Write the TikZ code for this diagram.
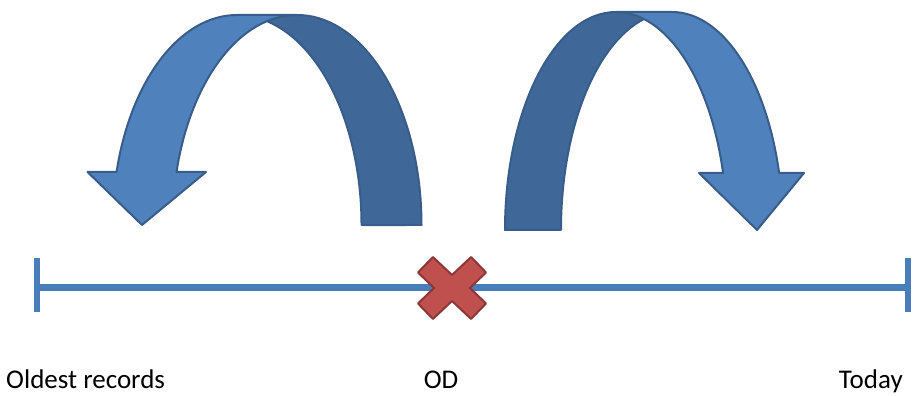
\documentclass[tikz,border=0pt]{standalone}
\usepackage{fontspec}
\setmainfont{Carlito}
\definecolor{bandlight}{HTML}{4F81BD}
\definecolor{banddark}{HTML}{3F6797}
\definecolor{bandedge}{HTML}{385D8A}
\definecolor{axisblue}{HTML}{4A7EBB}
\definecolor{crossred}{HTML}{C0504D}
\definecolor{crossedge}{HTML}{8C3836}

\begin{document}
\begin{tikzpicture}[x=1pt,y=1pt,
  lightband/.style={fill=bandlight},
  darkband/.style={fill=banddark},
  bandline/.style={draw=bandedge,line width=2pt,line join=round},
  lefthalf/.style={x radius=124.5,y radius=210},
  righthalf/.style={x radius=111,y radius=218},
  axis/.style={draw=axisblue,line width=6.5pt},
  crossmark/.style={fill=crossred,draw=crossedge,line width=2pt,line join=round},
  datelabel/.style={font=\fontsize{27}{32}\selectfont,inner sep=0pt}]

\useasboundingbox (0,0) rectangle (913,396);

\coordinate (oldend) at (37,108.5);
\coordinate (odmark) at (452,108);
\coordinate (todayend) at (908,108.5);

\begin{scope}[axis]
\draw (oldend) -- (todayend);
\draw (oldend) ++(0,-24.5) -- ++(0,54);
\draw (todayend) ++(0,-24.5) -- ++(0,54);
\end{scope}

\begin{scope}[shift={(odmark)}]
\filldraw[crossmark] (-34,-15.5) -- (-19.1,-31) -- (0,-13) -- (19.1,-31) -- (34,-15.5) -- (18,0)
  -- (34,15.5) -- (19.1,31) -- (0,13) -- (-19.1,31) -- (-34,15.5) -- (-18,0) -- cycle;
\end{scope}

% left arrow
\fill[lightband] (142,171) -- (206,224) -- (176.5,224)
  arc[lefthalf,start angle=165.38,end angle=90] -- (237,381)
  arc[lefthalf,start angle=90,end angle=165.38] -- (87.5,224) -- cycle;
\fill[darkband] (267,374.8)
  arc[lefthalf,start angle=76.06,end angle=0] -- (421.5,171)
  arc[lefthalf,start angle=0,end angle=103.94] -- cycle;
\draw[bandline] (267,374.8)
  arc[lefthalf,start angle=76.06,end angle=0] -- (421.5,171)
  arc[lefthalf,start angle=0,end angle=90] -- (237,381)
  arc[lefthalf,start angle=90,end angle=165.38] -- (87.5,224) -- (142,171) -- (206,224) -- (176.5,224)
  arc[lefthalf,start angle=165.38,end angle=90];

% right arrow
\fill[lightband] (757,166) -- (699,223) -- (723.1,223)
  arc[righthalf,start angle=15.16,end angle=90] -- (672,384)
  arc[righthalf,start angle=90,end angle=15.16] -- (804,223) -- cycle;
\fill[darkband] (644,377)
  arc[righthalf,start angle=104.61,end angle=180] -- (505,166)
  arc[righthalf,start angle=180,end angle=75.39] -- cycle;
\draw[bandline] (644,377)
  arc[righthalf,start angle=104.61,end angle=180] -- (505,166)
  arc[righthalf,start angle=180,end angle=90] -- (672,384)
  arc[righthalf,start angle=90,end angle=15.16] -- (804,223) -- (757,166) -- (699,223) -- (723.1,223)
  arc[righthalf,start angle=15.16,end angle=90];

\node[datelabel,anchor=base west] (oldest) at (6,7.5) {Oldest records};
\node[datelabel,anchor=base] (od) at (441,7.5) {OD};
\node[datelabel,anchor=base east] (today) at (903,7.5) {Today};

\end{tikzpicture}
\end{document}
